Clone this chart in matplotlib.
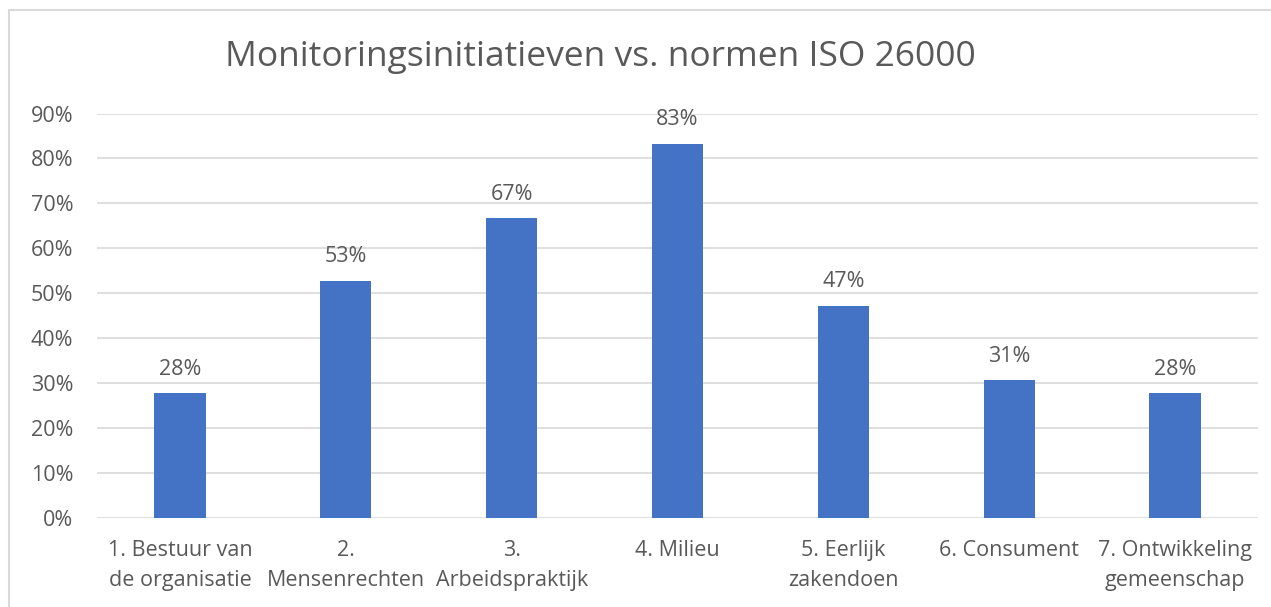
import matplotlib.pyplot as plt
import numpy as np
from matplotlib.patches import Rectangle
from matplotlib.ticker import PercentFormatter

categories = ["1. Bestuur van\nde organisatie", "2.\nMensenrechten", "3.\nArbeidspraktijk",
              "4. Milieu", "5. Eerlijk\nzakendoen", "6. Consument", "7. Ontwikkeling\ngemeenschap"]
values = [0.278, 0.528, 0.667, 0.833, 0.472, 0.306, 0.278]
labels = ["28%", "53%", "67%", "83%", "47%", "31%", "28%"]

plt.rcParams['font.family'] = ['Open Sans', 'DejaVu Sans']
txt = '#595959'

fig = plt.figure(figsize=(12.71, 6.07), dpi=100)
fig.patches.append(Rectangle((9 / 1271, -0.1), 1.1, (607 - 10) / 607 + 0.1,
                             transform=fig.transFigure, fill=False,
                             edgecolor='#D9D9D9', linewidth=1.5))

ax = fig.add_axes([97 / 1271, 89 / 607, (1258 - 97) / 1271, (493.5 - 89) / 607])
x = np.arange(len(categories))
ax.bar(x, values, width=0.31, color='#4472C4', zorder=3)
for xi, v, lab in zip(x, values, labels):
    ax.text(xi, v + 0.03, lab, ha='center', va='bottom', fontsize=15.5, color=txt)

ax.set_xlim(-0.5, len(categories) - 0.5)
ax.set_ylim(0, 0.9)
ax.set_yticks(np.arange(0, 0.91, 0.1))
ax.yaxis.set_major_formatter(PercentFormatter(1.0, decimals=0))
ax.grid(axis='y', color='#D9D9D9', linewidth=1.2, zorder=0)
for s in ax.spines.values():
    s.set_visible(False)
ax.tick_params(axis='both', length=0, labelsize=15.5, labelcolor=txt)
ax.tick_params(axis='y', pad=17)
ax.tick_params(axis='x', pad=16)
ax.set_xticks(x)
ax.set_xticklabels(categories, linespacing=1.55)

fig.text(600 / 1271, 1 - 57 / 607, "Monitoringsinitiatieven vs. normen ISO 26000",
         ha='center', va='center', fontsize=25.5, color=txt)

plt.savefig("out.png", dpi=100)
